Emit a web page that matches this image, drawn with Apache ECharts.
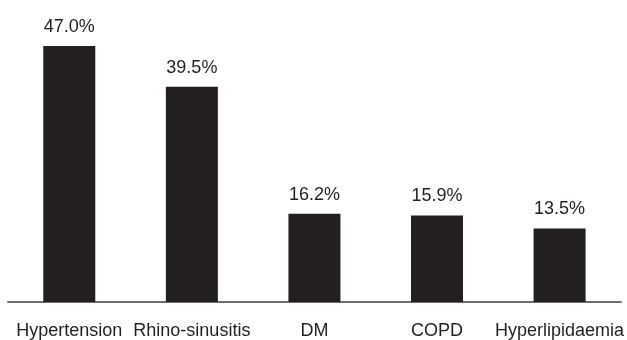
<!DOCTYPE html>
<html>
<head>
<meta charset="utf-8">
<script src="https://cdn.jsdelivr.net/npm/echarts@6/dist/echarts.min.js"></script>
<style>
  html, body { margin: 0; padding: 0; background: #fff; }
  #chart { width: 627px; height: 340px; }
</style>
</head>
<body>
<div id="chart"></div>
<script>
// Prevalence of comorbidities (%)
const categories = ['Hypertension', 'Rhino-sinusitis', 'DM', 'COPD', 'Hyperlipidaemia'];
const prevalence = [47.0, 39.5, 16.2, 15.9, 13.5];

const FONT = '"Liberation Sans Narrow", "Arial Narrow", "Liberation Sans", sans-serif';

const chart = echarts.init(document.getElementById('chart'));
chart.setOption({
  animation: false,
  grid: { left: 8, right: 5, top: 46, bottom: 38, containLabel: false },
  xAxis: {
    type: 'category',
    data: categories,
    axisLine: { show: true, lineStyle: { color: '#6d6d6d', width: 2 } },
    axisTick: { show: false },
    axisLabel: { color: '#231f20', fontFamily: FONT, fontSize: 18, margin: 20, interval: 0 }
  },
  yAxis: {
    type: 'value',
    min: 0,
    max: 47.0,
    show: false,
    splitLine: { show: false }
  },
  series: [{
    type: 'bar',
    data: prevalence,
    barWidth: 52,
    itemStyle: { color: '#231f20' },
    label: {
      show: true,
      position: 'top',
      distance: 10,
      color: '#231f20',
      fontFamily: FONT,
      fontSize: 18,
      formatter: p => p.value.toFixed(1) + '%'
    }
  }]
});
</script>
</body>
</html>
